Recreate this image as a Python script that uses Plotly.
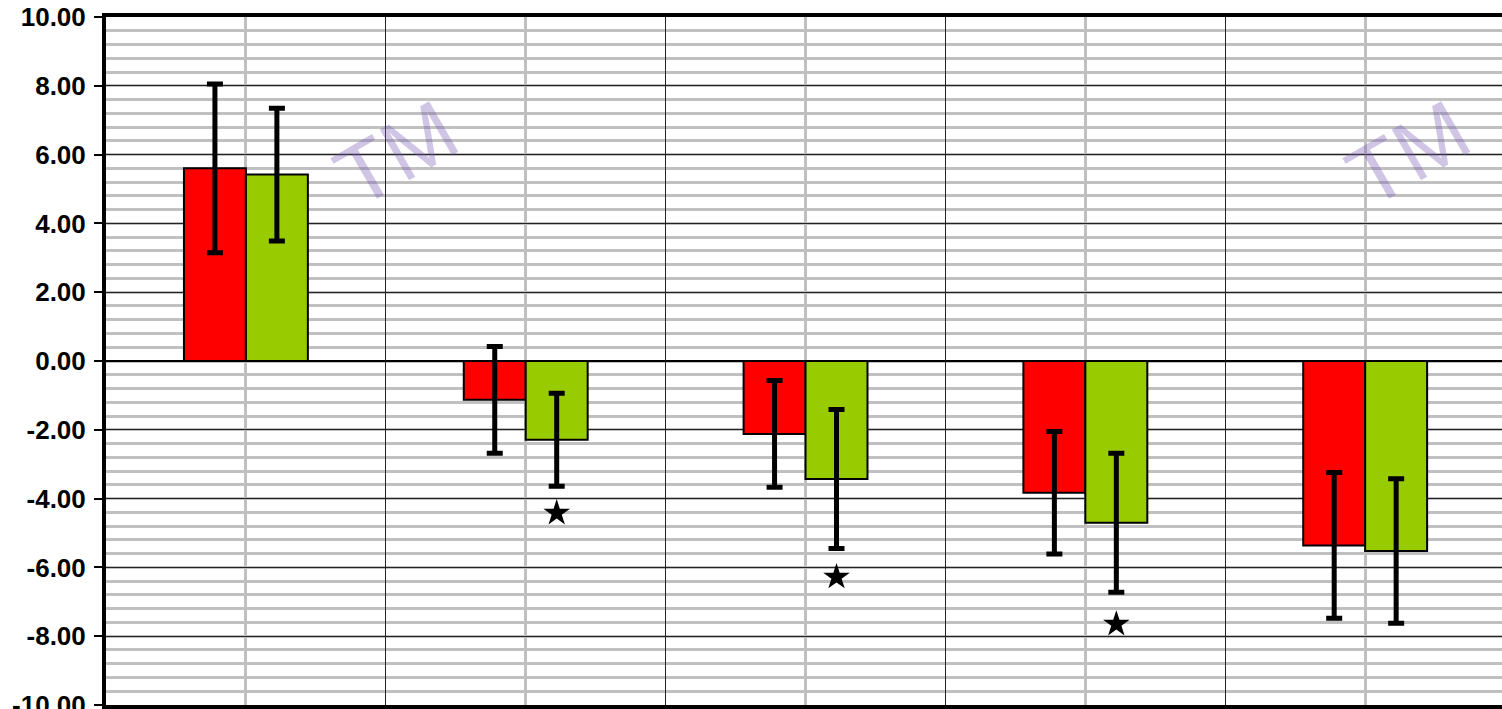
import plotly.graph_objects as go

# Data
categories = [0, 1, 2, 3, 4]
red_values = [5.60, -1.13, -2.12, -3.83, -5.36]
red_errors = [2.45, 1.55, 1.55, 1.78, 2.12]
green_values = [5.42, -2.29, -3.43, -4.70, -5.52]
green_errors = [1.93, 1.35, 2.02, 2.02, 2.10]
star_flags = [False, True, True, True, False]
star_values = [None, -4.42, -6.28, -7.65, None]
y_ticks = [-10, -8, -6, -4, -2, 0, 2, 4, 6, 8, 10]
y_tick_text = [f"<b>{v:.2f}</b>" for v in y_ticks]

BAR_W = 0.2214

fig = go.Figure()
fig.add_trace(go.Bar(
    x=categories, y=red_values, width=BAR_W, offset=-BAR_W,
    marker=dict(color="#FF0000", line=dict(color="black", width=2)),
    error_y=dict(type="data", array=red_errors, visible=True,
                 color="black", thickness=5, width=8),
    showlegend=False,
))
fig.add_trace(go.Bar(
    x=categories, y=green_values, width=BAR_W, offset=0,
    marker=dict(color="#99CC00", line=dict(color="black", width=2)),
    error_y=dict(type="data", array=green_errors, visible=True,
                 color="black", thickness=5, width=8),
    showlegend=False,
))
sx = [c + BAR_W / 2 for c, f in zip(categories, star_flags) if f]
sy = [v for v, f in zip(star_values, star_flags) if f]
fig.add_trace(go.Scatter(
    x=sx, y=sy, mode="markers",
    marker=dict(symbol="star", size=20, color="black"),
    showlegend=False,
))

# watermark TM marks
for xp in [0.151, 0.99]:
    fig.add_annotation(xref="paper", yref="paper", x=xp, y=0.91,
                       text="TM", showarrow=False, textangle=-30,
                       font=dict(family="Liberation Sans", size=85,
                                 color="rgba(120,90,180,0.35)"))

fig.update_layout(
    width=1502, height=709,
    margin=dict(l=106, r=0, t=17, b=4, autoexpand=False),
    paper_bgcolor="white", plot_bgcolor="white",
    barmode="overlay",
    showlegend=False,
)
fig.update_xaxes(
    range=[-0.5, 4.489], showticklabels=False, automargin=False,
    tick0=-0.5, dtick=1, showgrid=True, gridcolor="#222222", gridwidth=1,
    minor=dict(tick0=0, dtick=1, showgrid=True, gridcolor="#C0C0C0", gridwidth=2.5),
    ticks="outside", ticklen=8, tickwidth=2, tickcolor="black",
    showline=True, linecolor="black", linewidth=4, mirror=True,
    zeroline=False,
)
fig.update_yaxes(
    range=[-10, 10], tickvals=y_ticks, ticktext=y_tick_text, automargin=False,
    ticklabeloverflow="allow", ticklabelstandoff=3,
    showgrid=True, gridcolor="#222222", gridwidth=1,
    minor=dict(dtick=0.4, tick0=0, showgrid=True, gridcolor="#C0C0C0", gridwidth=2.5),
    ticks="outside", ticklen=8, tickwidth=2, tickcolor="black",
    tickfont=dict(family="Liberation Sans", size=26, color="black"),
    showline=True, linecolor="black", linewidth=4, mirror=True,
    zeroline=True, zerolinecolor="black", zerolinewidth=2,
)

fig.write_html("out.html", config={"displayModeBar": False},
               post_script="document.body.style.margin='0';document.body.style.overflow='hidden';")
